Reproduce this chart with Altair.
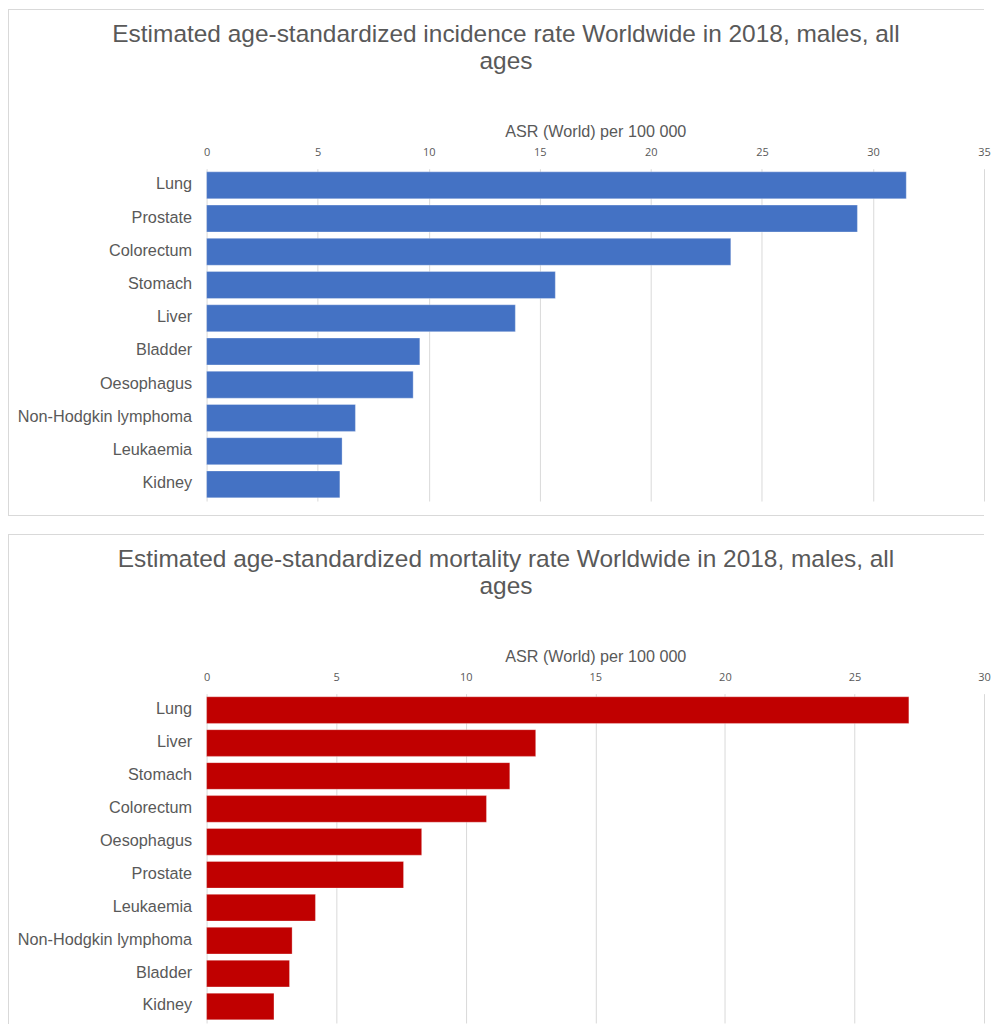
import altair as alt
import pandas as pd

# ---------------- data ----------------
INC_CATS = ["Lung", "Prostate", "Colorectum", "Stomach", "Liver", "Bladder",
            "Oesophagus", "Non-Hodgkin lymphoma", "Leukaemia", "Kidney"]
INC_VALS = [31.5, 29.3, 23.6, 15.7, 13.9, 9.6, 9.3, 6.7, 6.1, 6.0]
INC_TICKS = [0, 5, 10, 15, 20, 25, 30, 35]
INC_TITLE = ["Estimated age-standardized incidence rate Worldwide in 2018, males, all",
             "ages"]

MORT_CATS = ["Lung", "Liver", "Stomach", "Colorectum", "Oesophagus", "Prostate",
             "Leukaemia", "Non-Hodgkin lymphoma", "Bladder", "Kidney"]
MORT_VALS = [27.1, 12.7, 11.7, 10.8, 8.3, 7.6, 4.2, 3.3, 3.2, 2.6]
MORT_TICKS = [0, 5, 10, 15, 20, 25, 30]
MORT_TITLE = ["Estimated age-standardized mortality rate Worldwide in 2018, males, all",
              "ages"]

AXIS_TITLE = "ASR (World) per 100 000"

TEXT = "#595959"
GRID = "#d9d9d9"
FRAME = "#d9d9d9"
W = 779
FRAME_L = -199
FRAME_R = 779
FRAME_T = -160


def line_rect(x1, x2, y1, y2):
    one = pd.DataFrame({"k": [0]})
    return alt.Chart(one).mark_rect(color=FRAME, strokeWidth=0).encode(
        x=alt.value(x1), x2=alt.value(x2), y=alt.value(y1), y2=alt.value(y2))


def panel(cats, vals, ticks, title_lines, color, height, closed):
    df = pd.DataFrame({"cancer": cats, "asr": vals})
    bars = alt.Chart(df).mark_bar(
        color=color, stroke="#ffffff", strokeOpacity=0.3, strokeWidth=1
    ).encode(
        x=alt.X(
            "asr:Q",
            scale=alt.Scale(domain=[ticks[0], ticks[-1]], nice=False, zero=True),
            axis=alt.Axis(
                orient="top", values=ticks, title=AXIS_TITLE, grid=True,
                gridColor=GRID, gridWidth=1, domain=False, ticks=False,
                labelFont="Open Sans", labelFontSize=11, labelColor=TEXT,
                labelPadding=11, labelFlush=False,
                titleFont="Liberation Sans", titleFontSize=16.2,
                titleFontWeight="normal", titleColor=TEXT, titlePadding=7,
            ),
        ),
        y=alt.Y(
            "cancer:N", sort=cats,
            scale=alt.Scale(paddingInner=0.19, paddingOuter=0.095),
            axis=alt.Axis(
                title=None, domain=False, ticks=False, labelPadding=15,
                labelFont="Liberation Sans", labelFontSize=16.3,
                labelColor=TEXT, labelLimit=400, labelOffset=-1,
            ),
        ),
    )

    bottom_y = height + 14 if closed else height
    layers = [
        line_rect(FRAME_L, FRAME_R, FRAME_T, FRAME_T + 1),   # top edge
        line_rect(FRAME_L, FRAME_L + 1, FRAME_T, bottom_y + 1),  # left edge
    ]
    if closed:
        layers.append(line_rect(FRAME_L, FRAME_R, bottom_y, bottom_y + 1))  # bottom edge
    layers.append(bars)
    for i, line in enumerate(title_lines):
        layers.append(
            alt.Chart(pd.DataFrame({"t": [line]})).mark_text(
                font="Liberation Sans", fontSize=24.5, color=TEXT,
                align="center", baseline="alphabetic",
            ).encode(text="t:N", x=alt.value(300), y=alt.value(-127 + 27.5 * i))
        )
    return alt.layer(*layers).properties(width=W, height=height)


top = panel(INC_CATS, INC_VALS, INC_TICKS, INC_TITLE, "#4472C4", 333, True)
bottom = panel(MORT_CATS, MORT_VALS, MORT_TICKS, MORT_TITLE, "#C00000", 330, False)

chart = alt.vconcat(top, bottom, spacing=18).properties(
    padding=0, background="white"
).configure_view(stroke=None)

chart.save("out.html", embed_options={"renderer": "svg", "actions": False})
